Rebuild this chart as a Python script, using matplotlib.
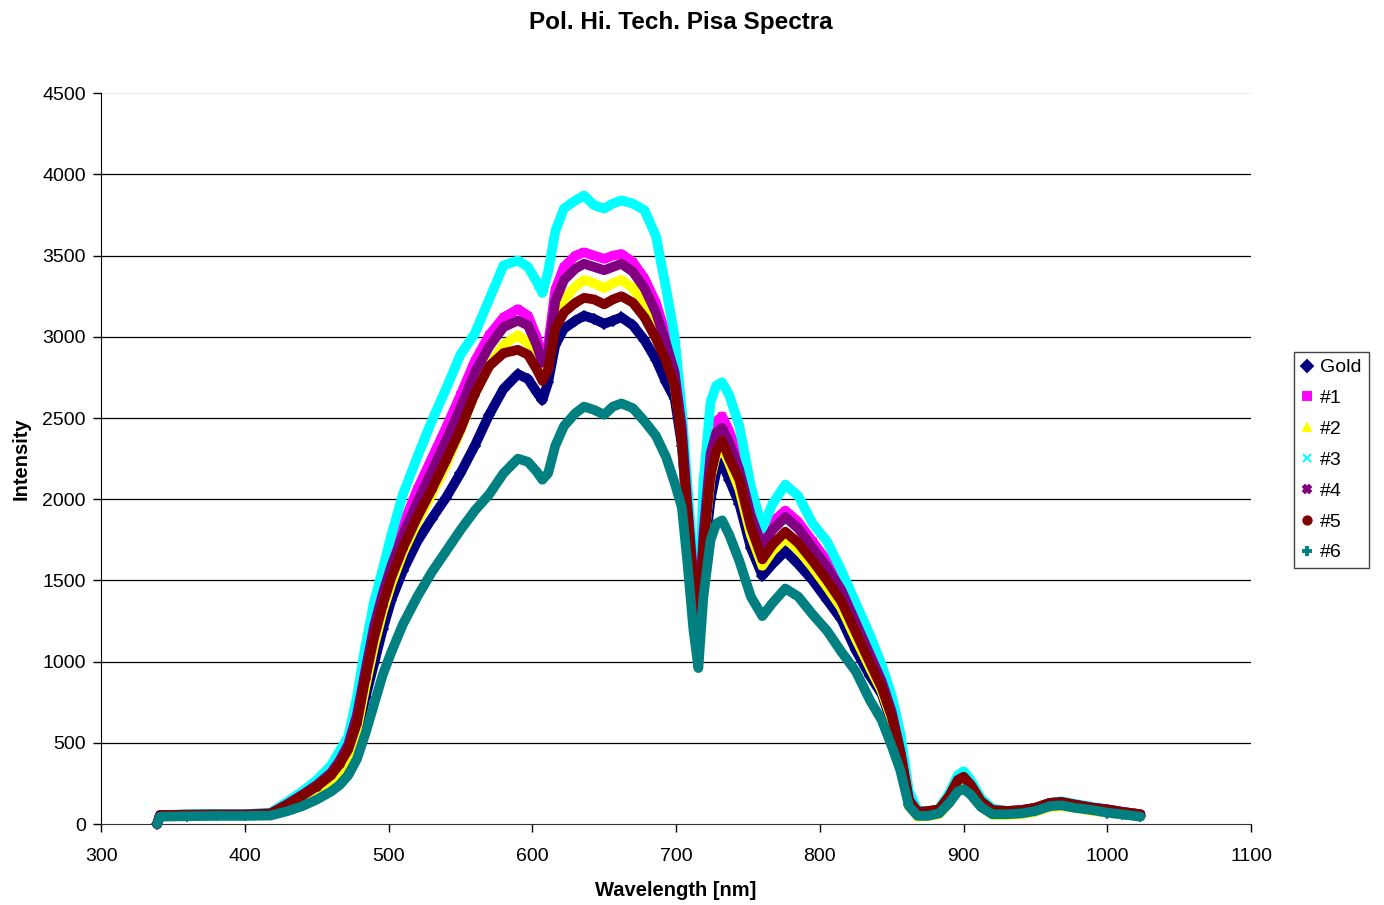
import numpy as np
from matplotlib import pyplot as plt
from matplotlib.lines import Line2D

plt.rcParams['font.family'] = ['Liberation Sans', 'DejaVu Sans']

## values, one list per series

wavelength = [339, 341, 360, 380, 400, 418, 430, 440, 450, 460, 466, 472, 478, 484,
              490, 496, 502, 510, 520, 530, 540, 550, 560, 570, 580, 590, 597, 603,
              607, 611, 616, 622, 630, 636, 643, 650, 656, 662, 670, 678, 686, 693,
              699, 704, 708, 712, 715.5, 719, 724, 728, 732, 737, 744, 752, 760, 767,
              776, 785, 795, 805, 815, 825, 835, 843, 850, 856, 862, 868, 875, 883,
              890, 896, 900, 905, 912, 920, 930, 940, 950, 960, 968, 977, 990, 1000,
              1010, 1023]

gold = [0, 50, 52, 55, 55, 60, 100, 150, 200, 255, 300, 380, 550, 780,
        990, 1200, 1380, 1560, 1740, 1880, 2010, 2160, 2330, 2520, 2680, 2770, 2740, 2660,
        2610, 2720, 2950, 3050, 3100, 3130, 3110, 3080, 3100, 3120, 3070, 2980, 2860, 2720,
        2620, 2330, 1870, 1450, 1160, 1600, 2000, 2170, 2220, 2120, 1970, 1700, 1530, 1600,
        1680, 1600, 1500, 1380, 1260, 1070, 910, 800, 620, 420, 120, 60, 55, 70,
        130, 230, 250, 200, 120, 70, 65, 70, 80, 110, 115, 105, 85, 70,
        60, 50]

s1 = [0, 55, 58, 62, 60, 68, 135, 190, 255, 330, 410, 520, 700, 990,
      1260, 1460, 1640, 1840, 2060, 2250, 2440, 2640, 2850, 3010, 3120, 3170, 3130, 3000,
      2880, 2950, 3290, 3430, 3500, 3520, 3500, 3480, 3500, 3510, 3460, 3360, 3210, 3010,
      2830, 2480, 1980, 1540, 1230, 1850, 2350, 2480, 2510, 2420, 2240, 1950, 1750, 1860,
      1930, 1860, 1740, 1620, 1480, 1280, 1070, 900, 700, 460, 160, 75, 75, 90,
      180, 290, 305, 250, 150, 90, 80, 85, 100, 130, 135, 120, 100, 90,
      75, 60]

s2 = [0, 50, 55, 55, 55, 60, 105, 160, 210, 270, 330, 420, 580, 850,
      1100, 1310, 1480, 1670, 1860, 2030, 2210, 2420, 2650, 2820, 2950, 3010, 2960, 2850,
      2760, 2830, 3100, 3230, 3310, 3350, 3330, 3300, 3330, 3350, 3300, 3200, 3050, 2880,
      2700, 2380, 1900, 1580, 1180, 1700, 2130, 2280, 2320, 2220, 2060, 1780, 1590, 1680,
      1760, 1690, 1580, 1460, 1330, 1140, 960, 820, 640, 420, 110, 45, 50, 60,
      130, 220, 240, 190, 110, 55, 55, 60, 75, 105, 110, 100, 80, 70,
      60, 50]

s3 = [0, 55, 60, 62, 60, 70, 140, 200, 270, 360, 450, 540, 780, 1100,
      1370, 1570, 1780, 2030, 2260, 2480, 2680, 2890, 3020, 3230, 3440, 3470, 3430, 3340,
      3270, 3400, 3650, 3790, 3840, 3870, 3810, 3790, 3820, 3840, 3820, 3780, 3620, 3300,
      3000, 2550, 2080, 1600, 1260, 2100, 2600, 2700, 2720, 2640, 2450, 2080, 1820, 1970,
      2090, 2020, 1850, 1740, 1560, 1360, 1160, 980, 790, 560, 200, 85, 75, 95,
      190, 300, 325, 270, 160, 95, 80, 85, 100, 130, 140, 125, 105, 90,
      75, 60]

s4 = [0, 55, 57, 58, 58, 65, 125, 180, 240, 315, 390, 490, 670, 950,
      1220, 1420, 1590, 1780, 1980, 2170, 2360, 2560, 2780, 2940, 3060, 3100, 3070, 2950,
      2840, 2900, 3220, 3350, 3420, 3450, 3430, 3410, 3430, 3450, 3400, 3300, 3150, 2960,
      2780, 2440, 1950, 1520, 1220, 1780, 2280, 2410, 2440, 2350, 2180, 1900, 1710, 1810,
      1890, 1820, 1700, 1580, 1440, 1240, 1040, 880, 690, 450, 150, 75, 75, 90,
      170, 270, 290, 240, 140, 85, 80, 85, 100, 130, 135, 120, 100, 90,
      75, 60]

s5 = [0, 55, 57, 58, 58, 65, 120, 175, 230, 300, 370, 460, 620, 900,
      1150, 1350, 1520, 1700, 1890, 2060, 2240, 2430, 2650, 2820, 2900, 2920, 2890, 2800,
      2730, 2800, 3050, 3150, 3210, 3240, 3230, 3200, 3230, 3250, 3210, 3120, 2990, 2850,
      2700, 2350, 1900, 1480, 1200, 1700, 2150, 2300, 2360, 2250, 2120, 1830, 1630, 1720,
      1800, 1730, 1620, 1500, 1370, 1180, 990, 840, 660, 440, 140, 75, 80, 90,
      170, 270, 290, 240, 140, 85, 80, 85, 100, 130, 135, 120, 100, 90,
      75, 60]

s6 = [0, 45, 48, 50, 50, 52, 80, 110, 150, 200, 240, 300, 400, 560,
      740, 920, 1060, 1230, 1400, 1550, 1680, 1810, 1930, 2030, 2160, 2250, 2230, 2170,
      2120, 2160, 2330, 2450, 2530, 2570, 2550, 2520, 2570, 2590, 2560, 2480, 2390, 2260,
      2100, 1950, 1600, 1200, 960, 1400, 1750, 1850, 1870, 1780, 1620, 1400, 1280, 1360,
      1450, 1400, 1290, 1190, 1060, 940, 760, 640, 480, 330, 110, 50, 50, 65,
      130, 200, 215, 180, 105, 60, 60, 65, 80, 110, 115, 100, 85, 70,
      60, 45]

names = ['Gold', '#1', '#2', '#3', '#4', '#5', '#6']
colors = ['#000080', '#FF00FF', '#FFFF00', '#00FFFF', '#800080', '#800000', '#008080']
markers = ['D', 's', '^', 'x', 'X', 'o', 'P']


def main():
	fig = plt.figure(figsize=(13.84, 9.05), dpi=100)
	ax = fig.add_axes([0.073, 0.0895, 0.831, 0.8075])

	series = [gold, s1, s2, s3, s4, s5, s6]
	handles = []
	for vals, c, m, name in zip(series, colors, markers, names):
		# thick line + small markers gives the dense-marker band look of the original
		ax.plot(wavelength, vals, '-', color=c, lw=7, solid_capstyle='round',
				solid_joinstyle='round', zorder=3, clip_on=False)
		ax.plot(wavelength, vals, m, color=c, ms=5, mew=1.2, zorder=3, clip_on=False)
		handles.append(Line2D([], [], ls='', marker=m, color=c, ms=6, mew=1.4, label=name))

	ax.set_xlim(300, 1100)
	ax.set_ylim(0, 4500)
	ax.set_xticks(np.arange(300, 1101, 100))
	ax.set_yticks(np.arange(0, 4501, 500))

	ax.set_axisbelow(True)
	ax.yaxis.grid(True, color='black', lw=0.9)
	ax.get_ygridlines()[-1].set_color('#eeeeee')
	ax.get_ygridlines()[0].set_visible(False)

	for side in ('top', 'right'):
		ax.spines[side].set_visible(False)
	ax.spines['left'].set_color('black')
	ax.spines['bottom'].set_color('#333333')
	ax.tick_params(direction='out', length=6, width=1, labelsize=14)
	ax.tick_params(axis='x', pad=11)
	ax.tick_params(axis='y', pad=5)

	ax.set_xlabel('Wavelength [nm]', fontsize=14.5, fontweight='bold', labelpad=12)
	ax.set_ylabel('Intensity', fontsize=14.5, fontweight='bold', labelpad=8)
	fig.suptitle('Pol. Hi. Tech. Pisa Spectra', fontsize=17.5, fontweight='bold',
				 x=0.492, y=0.988)

	fig.legend(handles=handles, loc='upper left', bbox_to_anchor=(0.935, 0.611),
			   fontsize=14, frameon=True, fancybox=False, edgecolor='#444444',
			   framealpha=1, handlelength=0.6, handletextpad=0.4, labelspacing=0.68,
			   borderpad=0.35, borderaxespad=0)

	fig.savefig('out.png', dpi=100)


if __name__ == '__main__':
	main()
